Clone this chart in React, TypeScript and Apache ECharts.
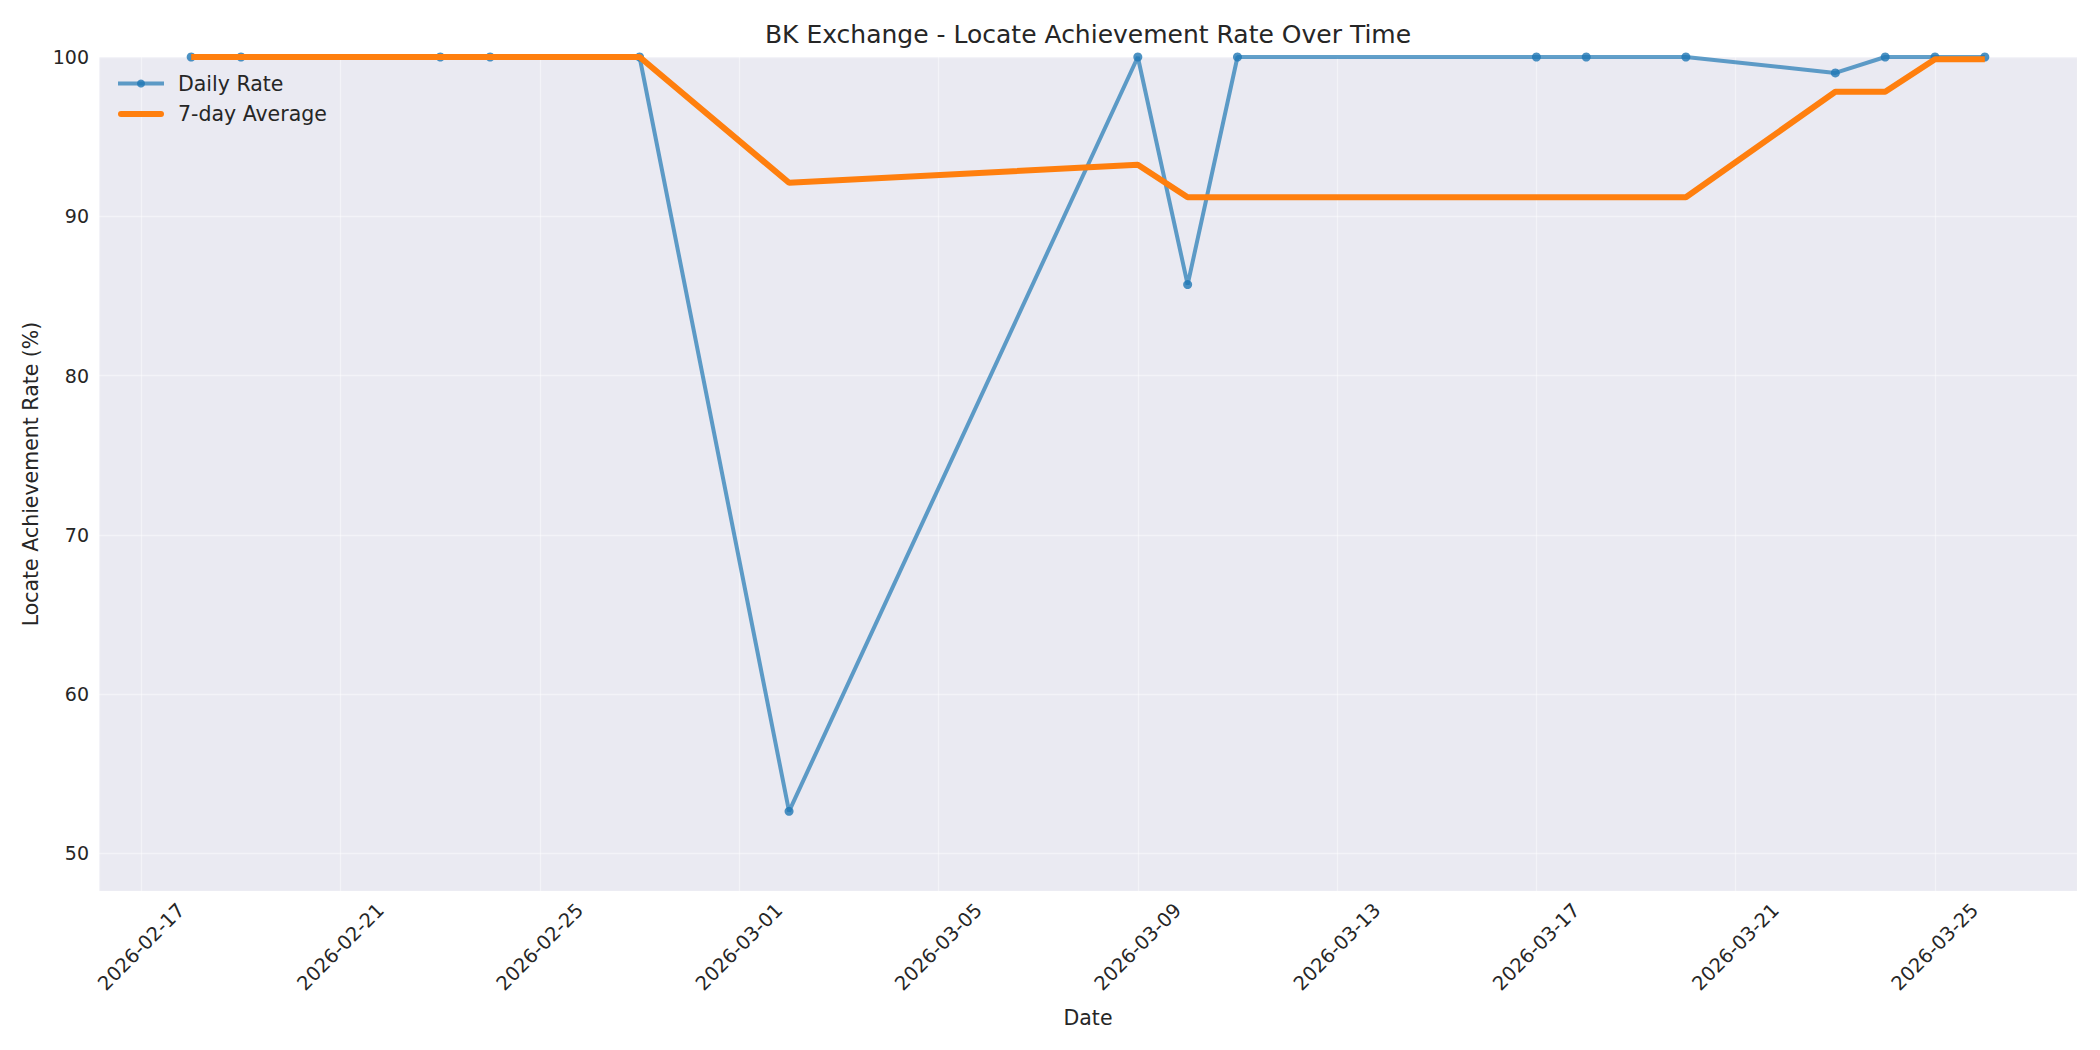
import { useEffect, useRef } from "react";
import * as echarts from "echarts";

const FONT = "DejaVu Sans";
const INK = "#262626";
const BG = "#eaeaf2";
const BLUE = "rgba(31,119,180,0.7)";
const BLUE_DOT = "rgba(31,119,180,0.8)";
const ORANGE = "#ff7f0e";

// dates of the observations
const DATES = [
  "2026-02-18", "2026-02-19", "2026-02-23", "2026-02-24", "2026-02-27", "2026-03-02",
  "2026-03-09", "2026-03-10", "2026-03-11", "2026-03-17", "2026-03-18", "2026-03-20",
  "2026-03-23", "2026-03-24", "2026-03-25", "2026-03-26",
];
// daily locate achievement rate (%)
const DAILY = [100, 100, 100, 100, 100, 52.63, 100, 85.71, 100, 100, 100, 100, 99.0, 100, 100, 100];
// 7-day rolling average (%)
const AVG7 = [100, 100, 100, 100, 100, 92.1, 93.23, 91.19, 91.19, 91.19, 91.19, 91.19, 97.82, 97.82, 99.86, 99.86];

// x axis: days counted from the first tick date
const X_ORIGIN = "2026-02-17";
const X_MIN = -0.85;
const X_MAX = 38.85;
const X_STEP = 4;
const Y_MIN = 47.63;
const Y_MAX = 100;
const Y_STEP = 10;

const DAY = 86400000;
const t0 = Date.parse(X_ORIGIN);
const dayOf = (d: string) => (Date.parse(d) - t0) / DAY;

export default function App() {
  const ref = useRef<HTMLDivElement>(null);

  useEffect(() => {
    if (!ref.current) return;
    const inst = echarts.init(ref.current, undefined, { renderer: "svg" });

    const daily = DATES.map((d, i) => [dayOf(d), DAILY[i]]);
    const avg = DATES.map((d, i) => [dayOf(d), AVG7[i]]);

    inst.setOption({
      animation: false,
      backgroundColor: "#ffffff",
      textStyle: { fontFamily: FONT, color: INK },
      title: {
        text: "BK Exchange - Locate Achievement Rate Over Time",
        left: 1088, top: 22, textAlign: "center", padding: 0,
        textStyle: { fontFamily: FONT, fontSize: 25, fontWeight: "normal", color: INK },
      },
      legend: {
        data: [
          { name: "Daily Rate", lineStyle: { width: 4, color: BLUE }, itemStyle: { color: BLUE_DOT } },
          { name: "7-day Average", icon: "path://M3,0H43A3,3 0 0 1 43,6H3A3,3 0 0 1 3,0Z" },
        ],
        orient: "vertical", left: 111, top: 68,
        itemWidth: 46, itemHeight: 10, itemGap: 9.5,
        textStyle: { fontFamily: FONT, fontSize: 20.5, color: INK, padding: [0, 0, 0, 9] },
      },
      grid: { left: 99, right: 23, top: 57, bottom: 159, backgroundColor: BG, show: true, borderWidth: 0 },
      xAxis: {
        type: "value", min: X_MIN, max: X_MAX, minInterval: X_STEP, maxInterval: X_STEP,
        name: "Date", nameLocation: "middle", nameGap: 116,
        nameTextStyle: { fontFamily: FONT, fontSize: 20.5, color: INK },
        axisLine: { show: false }, axisTick: { show: false },
        axisLabel: {
          rotate: 45, align: "center", verticalAlign: "middle", margin: 56,
          fontFamily: FONT, fontSize: 19.5, color: INK,
          showMinLabel: false, showMaxLabel: false,
          formatter: (v: number) => {
            if (Math.abs(v - Math.round(v)) > 1e-6) return "";
            return new Date(t0 + Math.round(v) * DAY).toISOString().slice(0, 10);
          },
        },
        splitLine: { show: true, lineStyle: { color: "rgba(255,255,255,0.45)", width: 1.3 } },
      },
      yAxis: {
        type: "value", min: Y_MIN, max: Y_MAX, minInterval: Y_STEP, maxInterval: Y_STEP,
        name: "Locate Achievement Rate (%)", nameLocation: "middle", nameGap: 57,
        nameTextStyle: { fontFamily: FONT, fontSize: 20.5, color: INK },
        axisLine: { show: false }, axisTick: { show: false },
        axisLabel: {
          margin: 10, fontFamily: FONT, fontSize: 19, color: INK,
          formatter: (v: number) => (Math.abs(v % Y_STEP) < 1e-6 ? String(v) : ""),
        },
        splitLine: { show: true, lineStyle: { color: "rgba(255,255,255,0.45)", width: 1.3 } },
      },
      series: [
        {
          name: "Daily Rate", type: "line", data: daily, z: 2,
          symbol: "circle", symbolSize: 9, showSymbol: true,
          lineStyle: { color: BLUE, width: 4 },
          itemStyle: { color: BLUE_DOT },
        },
        {
          name: "7-day Average", type: "line", data: avg, z: 3,
          symbol: "none",
          lineStyle: { color: ORANGE, width: 6 },
          itemStyle: { color: ORANGE },
        },
      ],
    });

    return () => inst.dispose();
  }, []);

  return <div ref={ref} style={{ position: "fixed", left: 0, top: 0, width: 2100, height: 1050 }} />;
}
